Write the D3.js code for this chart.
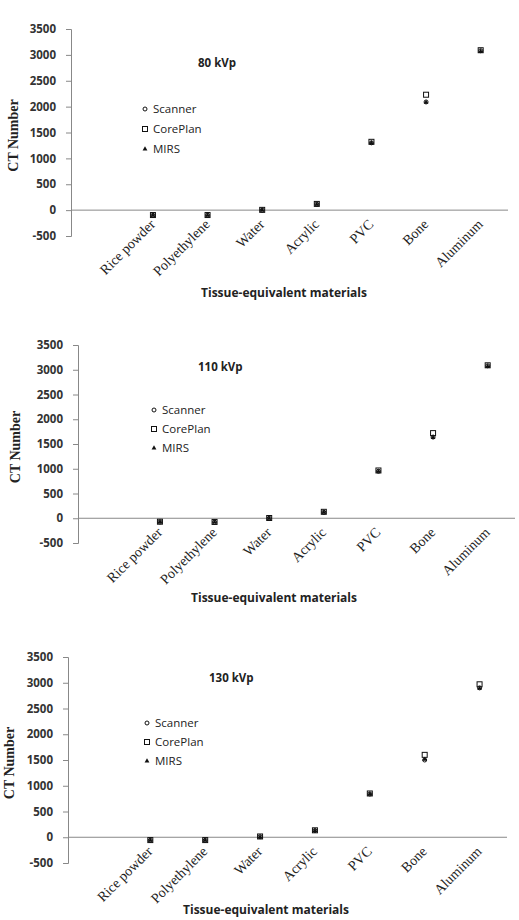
<!DOCTYPE html>
<html>
<head>
<meta charset="UTF-8">
<title>CT Number</title>
<script src="https://d3js.org/d3.v7.min.js"></script>
<style>
  body { margin: 0; background: #fff; }
  svg { display: block; }
</style>
</head>
<body>
<svg id="chart"></svg>
<script>

// categories (first band is empty, as in the original sheet)
const categories = ["", "Rice powder", "Polyethylene", "Water", "Acrylic", "PVC", "Bone", "Aluminum"];
const materials = categories.slice(1);
const yTicks = [-500, 0, 500, 1000, 1500, 2000, 2500, 3000, 3500];
const seriesNames = ["Scanner", "CorePlan", "MIRS"];
const kvpLabels = ["80 kVp", "110 kVp", "130 kVp"];

// values
const scanner80  = [-100, -100, 0, 115, 1300, 2090, 3080];
const coreplan80 = [-95, -95, 5, 120, 1320, 2230, 3090];
const mirs80     = [-100, -100, 0, 110, 1300, 2080, 3070];

const scanner110  = [-75, -80, 0, 120, 950, 1640, 3080];
const coreplan110 = [-70, -75, 5, 130, 965, 1720, 3090];
const mirs110     = [-75, -80, 0, 120, 945, 1630, 3070];

const scanner130  = [-60, -60, 10, 130, 840, 1500, 2900];
const coreplan130 = [-55, -55, 15, 135, 850, 1600, 2970];
const mirs130     = [-60, -60, 5, 130, 840, 1510, 2890];

const panels = [
  { title: kvpLabels[0], series: [scanner80, coreplan80, mirs80],
    left: 71, right: 508, top: 29, bottom: 236,
    titleX: 198, titleY: 67, legX: 145, legY: 109, legStep: 20,
    xTitleX: 284, xTitleY: 297, yTitleX: 18 },
  { title: kvpLabels[1], series: [scanner110, coreplan110, mirs110],
    left: 78, right: 515, top: 345, bottom: 543,
    titleX: 198, titleY: 371, legX: 154, legY: 410, legStep: 19,
    xTitleX: 274, xTitleY: 602, yTitleX: 20 },
  { title: kvpLabels[2], series: [scanner130, coreplan130, mirs130],
    left: 68, right: 507, top: 657, bottom: 863,
    titleX: 209, titleY: 682, legX: 147, legY: 723, legStep: 19,
    xTitleX: 266, xTitleY: 914, yTitleX: 14 }
];

const width = 519, height = 920;
const svg = d3.select("#chart").attr("width", width).attr("height", height);

const sansBold = "'Open Sans', 'Liberation Sans', sans-serif";
const serif = "'Liberation Serif', 'DejaVu Serif', serif";

function marker(g, type, x, y) {
  if (type === 0) {
    g.append("circle").attr("cx", x).attr("cy", y).attr("r", 2)
      .attr("fill", "#fff").attr("stroke", "#111").attr("stroke-width", 1);
  } else if (type === 1) {
    g.append("rect").attr("x", x - 2.5).attr("y", y - 2.5).attr("width", 5).attr("height", 5)
      .attr("fill", "none").attr("stroke", "#111").attr("stroke-width", 1);
  } else {
    g.append("path").attr("d", d3.symbol().type(d3.symbolTriangle).size(10)())
      .attr("transform", `translate(${x},${y})`).attr("fill", "#111");
  }
}

panels.forEach(p => {
  const g = svg.append("g");

  const x = d3.scaleBand().domain(categories).range([p.left, p.right]);
  const y = d3.scaleLinear().domain([-500, 3500]).range([p.bottom, p.top]);
  const y0 = y(0);

  // y axis
  const yAxis = g.append("g").attr("transform", `translate(${p.left},0)`)
    .call(d3.axisLeft(y).tickValues(yTicks).tickSize(5).tickPadding(10).tickFormat(d => String(d)));
  yAxis.select(".domain").attr("stroke", "#888");
  yAxis.selectAll(".tick line").attr("stroke", "#888");
  yAxis.selectAll(".tick text")
    .attr("font-family", sansBold).attr("font-weight", "bold").attr("font-size", 11.5)
    .attr("fill", "#333");

  // x axis at zero
  g.append("line").attr("x1", p.left).attr("x2", p.right)
    .attr("y1", y0).attr("y2", y0).attr("stroke", "#888").attr("stroke-width", 1);

  // category labels
  g.selectAll("text.cat").data(materials).enter().append("text")
    .attr("class", "cat")
    .attr("transform", d => `translate(${x(d) + x.bandwidth() / 2 + 3},${y0 + 15}) rotate(-45)`)
    .attr("text-anchor", "end")
    .attr("font-family", serif).attr("font-size", 14)
    .attr("fill", "#222")
    .text(d => d);

  // points
  p.series.forEach((vals, si) => {
    const sg = g.append("g");
    vals.forEach((v, i) => marker(sg, si, x(materials[i]) + x.bandwidth() / 2, y(v)));
  });

  // panel title
  g.append("text").attr("x", p.titleX).attr("y", p.titleY)
    .attr("font-family", sansBold).attr("font-weight", "bold").attr("font-size", 11.5)
    .attr("fill", "#222").text(p.title);

  // legend
  seriesNames.forEach((name, i) => {
    const ly = p.legY + i * p.legStep;
    marker(g, i, p.legX, ly);
    g.append("text").attr("x", p.legX + 8).attr("y", ly + 4)
      .attr("font-family", sansBold).attr("font-size", 11.5).attr("fill", "#222")
      .text(name);
  });

  // axis titles
  g.append("text").attr("x", p.xTitleX).attr("y", p.xTitleY)
    .attr("text-anchor", "middle")
    .attr("font-family", sansBold).attr("font-weight", "bold").attr("font-size", 12)
    .attr("fill", "#222").text("Tissue-equivalent materials");

  g.append("text")
    .attr("transform", `translate(${p.yTitleX},${(p.top + p.bottom) / 2 + 3}) rotate(-90)`)
    .attr("text-anchor", "middle")
    .attr("font-family", serif).attr("font-weight", "bold").attr("font-size", 14)
    .attr("fill", "#222").text("CT Number");
});

</script>
</body>
</html>
